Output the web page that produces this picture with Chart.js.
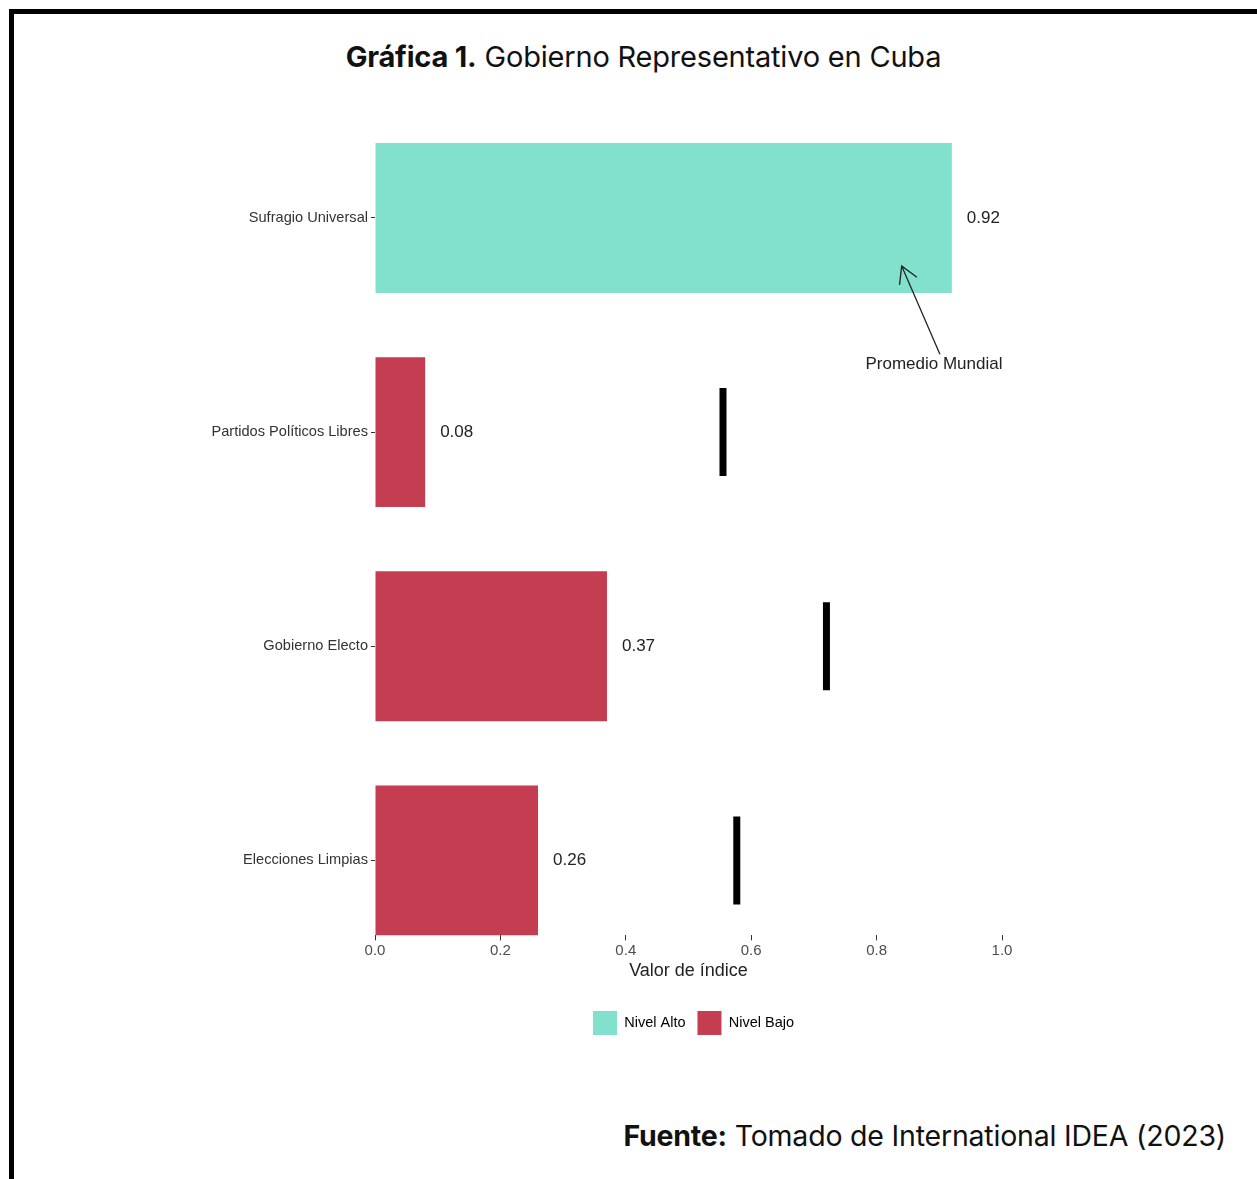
<!DOCTYPE html>
<html>
<head>
<meta charset="utf-8">
<script src="https://cdn.jsdelivr.net/npm/chart.js"></script>
<style>
  body {
    margin: 0;
    width: 1257px;
    height: 1179px;
    position: relative;
    overflow: hidden;
    background: #fff;
    font-family: Inter, sans-serif;
    color: #111;
  }
  /* marco negro (solo se ven arriba e izquierda) */
  .marco {
    position: absolute;
    left: 9px;
    top: 9px;
    width: 1400px;
    height: 1400px;
    border: 5px solid #000;
  }
  .titulo {
    position: absolute;
    left: 30px;
    right: 0;
    top: 42px;
    font-size: 29px;
    line-height: 30px;
    text-align: center;
    letter-spacing: -0.2px;
  }
  .fuente {
    position: absolute;
    right: 31px;
    top: 1121px;
    font-size: 28.5px;
    line-height: 30px;
    letter-spacing: -0.2px;
  }
  #grafica-box {
    position: absolute;
    left: 0;
    top: 100px;
    width: 1257px;
    height: 960px;
  }
</style>
</head>
<body>
  <div class="marco"></div>
  <div class="titulo"><b>Gráfica 1.</b> Gobierno Representativo en Cuba</div>
  <div id="grafica-box"><canvas id="grafica"></canvas></div>
  <div class="fuente"><b>Fuente:</b> Tomado de International IDEA (2023)</div>

<script>
// datos
const categorias = ['Sufragio Universal', 'Partidos Políticos Libres', 'Gobierno Electo', 'Elecciones Limpias'];
const valores = [0.92, 0.08, 0.37, 0.26];
const promedioMundial = [0.84, 0.555, 0.72, 0.577];
const niveles = ['Nivel Alto', 'Nivel Bajo', 'Nivel Bajo', 'Nivel Bajo'];
const nivelesLeyenda = ['Nivel Alto', 'Nivel Bajo'];
const coloresNivel = ['#81e1cd', '#c43d51'];
const ticksX = [0, 0.2, 0.4, 0.6, 0.8, 1.0];

const colorDe = n => coloresNivel[nivelesLeyenda.indexOf(n)];

// flecha "Promedio Mundial" (en unidades de los ejes)
const flecha = { desde: { x: 0.901, y: 0.636 }, hasta: { x: promedioMundial[0], y: 0.224 } };
const textoFlecha = { texto: 'Promedio Mundial', x: 0.8915, y: 0.682 };

const etiquetasValor = {
  id: 'etiquetasValor',
  afterLayout(chart) {
    // la leyenda del original queda un poco a la derecha del centro del panel
    chart.legend.left += 5;
    chart.legend.right += 5;
  },
  afterDatasetsDraw(chart) {
    const ctx = chart.ctx;
    const meta = chart.getDatasetMeta(0);
    ctx.save();
    ctx.font = '17px "Liberation Sans", Arial, sans-serif';
    ctx.fillStyle = '#222';
    ctx.textAlign = 'left';
    ctx.textBaseline = 'middle';
    meta.data.forEach((bar, i) => {
      ctx.fillText(valores[i].toFixed(2), bar.x + 15, bar.y);
    });

    // flecha y texto
    const sx = chart.scales.x, sy = chart.scales.y;
    const x0 = sx.getPixelForValue(flecha.desde.x), y0 = sy.getPixelForValue(flecha.desde.y);
    const x1 = sx.getPixelForValue(flecha.hasta.x), y1 = sy.getPixelForValue(flecha.hasta.y);
    ctx.strokeStyle = '#222';
    ctx.lineWidth = 1.3;
    ctx.beginPath();
    ctx.moveTo(x0, y0);
    ctx.lineTo(x1, y1);
    const ang = Math.atan2(y0 - y1, x0 - x1);
    const len = 19;
    ctx.moveTo(x1 + len * Math.cos(ang - Math.PI / 6), y1 + len * Math.sin(ang - Math.PI / 6));
    ctx.lineTo(x1, y1);
    ctx.lineTo(x1 + len * Math.cos(ang + Math.PI / 6), y1 + len * Math.sin(ang + Math.PI / 6));
    ctx.stroke();
    ctx.textAlign = 'center';
    ctx.fillText(textoFlecha.texto, sx.getPixelForValue(textoFlecha.x), sy.getPixelForValue(textoFlecha.y));
    ctx.restore();
  }
};

new Chart(document.getElementById('grafica'), {
  type: 'bar',
  data: {
    datasets: [
      {
        label: 'Valor de índice',
        data: valores.map((v, i) => ({ x: v, y: i })),
        backgroundColor: niveles.map(colorDe),
        barPercentage: 0.7,
        categoryPercentage: 1
      },
      {
        type: 'scatter',
        label: 'Promedio Mundial',
        data: promedioMundial.map((v, i) => ({ x: v, y: i })),
        pointStyle: 'line',
        rotation: 90,
        radius: 44,
        borderWidth: 7,
        borderColor: '#000',
        backgroundColor: '#000'
      }
    ]
  },
  options: {
    indexAxis: 'y',
    responsive: true,
    maintainAspectRatio: false,
    animation: false,
    layout: { autoPadding: false, padding: { top: 43, right: 255, bottom: 15, left: 0 } },
    scales: {
      x: {
        type: 'linear',
        min: 0,
        max: 1,
        offset: false,
        afterBuildTicks: s => { s.ticks = ticksX.map(v => ({ value: v })); },
        grid: { offset: false, drawOnChartArea: false, drawTicks: true, tickLength: 5, color: '#333' },
        border: { display: false },
        ticks: {
          padding: 1,
          color: '#4d4d4d',
          font: { family: '"Liberation Sans", Arial, sans-serif', size: 15 },
          callback: v => v.toFixed(1)
        },
        title: {
          display: true,
          text: 'Valor de índice',
          color: '#222',
          font: { family: '"Liberation Sans", Arial, sans-serif', size: 18 },
          padding: { top: 0, bottom: 17 }
        }
      },
      y: {
        type: 'linear',
        reverse: true,
        min: -0.35,
        max: 3.35,
        offset: false,
        afterBuildTicks: s => { s.ticks = categorias.map((c, i) => ({ value: i })); },
        afterFit: s => { s.width = 375; },
        grid: { offset: false, drawOnChartArea: false, drawTicks: true, tickLength: 4, color: '#333' },
        border: { display: false },
        ticks: {
          padding: 3,
          color: '#333',
          font: { family: '"Liberation Sans", Arial, sans-serif', size: 14.6 },
          callback: v => categorias[v]
        }
      }
    },
    plugins: {
      tooltip: { enabled: false },
      legend: {
        position: 'bottom',
        fullSize: false,
        labels: {
          boxWidth: 24,
          boxHeight: 24,
          padding: 12,
          color: '#333',
          font: { family: '"Liberation Sans", Arial, sans-serif', size: 14.5 },
          generateLabels: () => nivelesLeyenda.map((n, i) => ({
            text: n,
            fillStyle: coloresNivel[i],
            strokeStyle: coloresNivel[i],
            lineWidth: 0,
            hidden: false,
            datasetIndex: 0
          }))
        }
      }
    }
  },
  plugins: [etiquetasValor]
});
</script>
</body>
</html>
